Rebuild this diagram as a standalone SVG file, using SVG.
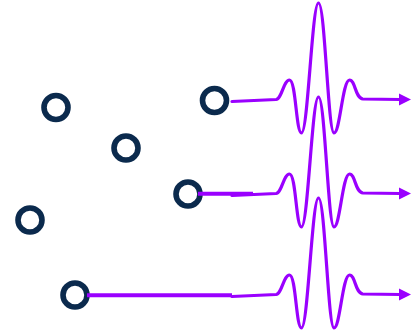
<svg xmlns="http://www.w3.org/2000/svg" xmlns:xlink="http://www.w3.org/1999/xlink" width="411" height="332" viewBox="0 0 411 332">
<style>
.node{fill:none;stroke:#0b2a4d;stroke-width:5.6}
.wave{fill:none;stroke:#9a00ff;stroke-width:3.2;stroke-linecap:round;stroke-linejoin:round}
.lead{fill:none;stroke:#9a00ff;stroke-width:4}
.head{fill:#9a00ff}
</style>
<defs>
<path id="wavelet" d="M232,1.5 L276,-0.5 C282,-1 283.5,-20 289.5,-20 C296,-20 296,33 301.5,33 C308,33 312,-97 318.5,-97 C325,-97 328,33 334,33 C340,33 342.5,-20 349.5,-20 C355.5,-20 355,-1.5 363,-1 L400,-0.5"/>
<polygon id="arrowhead" points="399,-6.5 411,-0.5 399,5.5"/>
</defs>
<rect width="411" height="332" fill="#ffffff"/>
<g id="nodes">
<g id="n1"><circle class="node" cx="56" cy="107.5" r="12"/></g>
<g id="n2"><circle class="node" cx="126" cy="148" r="12"/></g>
<g id="n3"><circle class="node" cx="30" cy="220" r="12"/></g>
<g id="n4"><circle class="node" cx="75" cy="295" r="12"/></g>
<g id="n5"><circle class="node" cx="188" cy="194" r="12"/></g>
<g id="n6"><circle class="node" cx="214.5" cy="100.5" r="12"/></g>
</g>
<g id="connectors">
<line class="lead" x1="198" y1="193.8" x2="253" y2="193.8"/>
<line class="lead" x1="87" y1="295.3" x2="232" y2="295.3"/>
<use href="#wavelet" xlink:href="#wavelet" class="wave" y="100"/>
<use href="#arrowhead" xlink:href="#arrowhead" class="head" y="100"/>
<use href="#wavelet" xlink:href="#wavelet" class="wave" y="194"/>
<use href="#arrowhead" xlink:href="#arrowhead" class="head" y="194"/>
<use href="#wavelet" xlink:href="#wavelet" class="wave" y="295"/>
<use href="#arrowhead" xlink:href="#arrowhead" class="head" y="295"/>
</g>
</svg>
